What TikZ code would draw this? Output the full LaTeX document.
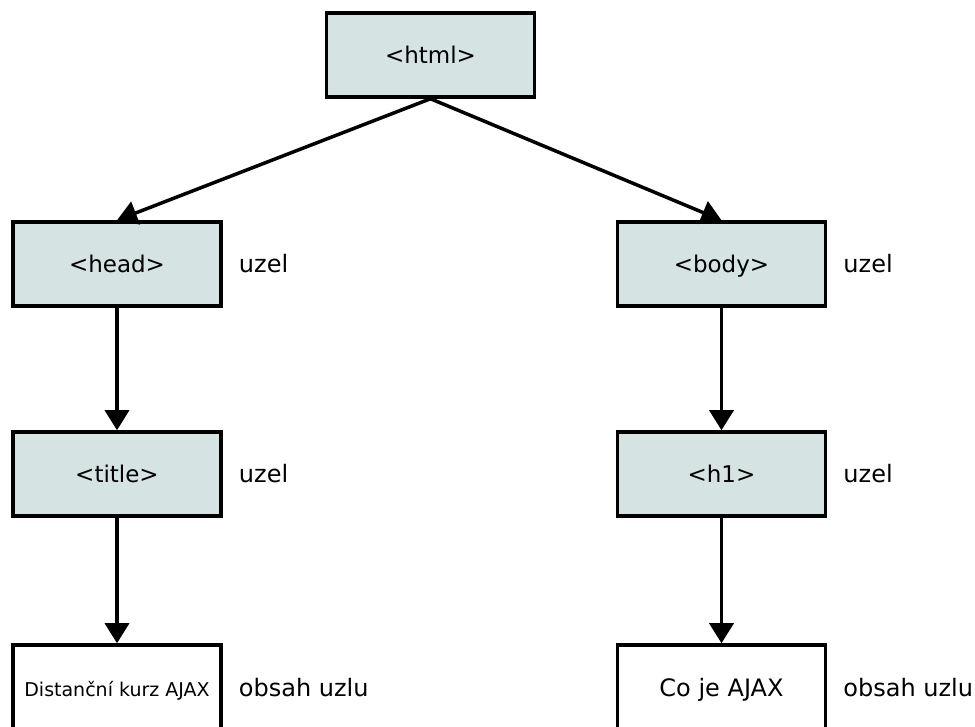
\documentclass[tikz,border=0pt]{standalone}
\usepackage{fontspec}
\setmainfont{DejaVu Sans}
\usetikzlibrary{arrows.meta,positioning}

\definecolor{uzelfill}{RGB}{214,227,227}

\begin{document}
\begin{tikzpicture}[x=1pt, y=1pt,
    uzel/.style={draw=black, line width=3.5pt, fill=uzelfill, minimum width=208pt, minimum height=84pt, text height=20pt, text depth=2pt, font=\fontsize{23}{27}\selectfont},
    obsah/.style={uzel, fill=white},
    popis/.style={anchor=west, inner sep=0pt, text height=20pt, text depth=2pt, font=\fontsize{24}{28}\selectfont},
    sipka/.style={line width=3.5pt, -{Triangle[length=20pt, width=24pt]}}]
            \useasboundingbox (0,0) rectangle (975,726);

            % uzly stromu
            \node[uzel] (html) at (430.5,671) {<html>};
            \node[uzel] (head) at (117,462) {<head>};
            \node[uzel] (body) at (721.5,462) {<body>};
            \node[uzel] (title) at (117,252) {<title>};
            \node[uzel] (h1) at (721.5,252) {<h1>};
            \node[obsah, font=\fontsize{19}{23}\selectfont] (distkurz) at (117,39) {Distanční kurz AJAX};
            \node[obsah, font=\fontsize{24}{28}\selectfont] (cojeajax) at (721.5,39) {Co je AJAX};

            % popisky vpravo
            \node[popis, right=16pt of head] (headpopis) {uzel};
            \node[popis, right=16pt of body] (bodypopis) {uzel};
            \node[popis, right=16pt of title] (titlepopis) {uzel};
            \node[popis, right=16pt of h1] (h1popis) {uzel};
            \node[popis, right=16pt of distkurz] (distpopis) {obsah uzlu};
            \node[popis, right=16pt of cojeajax] (cojepopis) {obsah uzlu};

            % hrany
            \draw[sipka] (html.south) -- (head.north);
            \draw[sipka] (html.south) -- (body.north);
            \draw[sipka] (head.south) -- (title.north);
            \draw[sipka] (title.south) -- (distkurz.north);
            \draw[sipka] (body.south) -- (h1.north);
            \draw[sipka] (h1.south) -- (cojeajax.north);
        \end{tikzpicture}
\end{document}
